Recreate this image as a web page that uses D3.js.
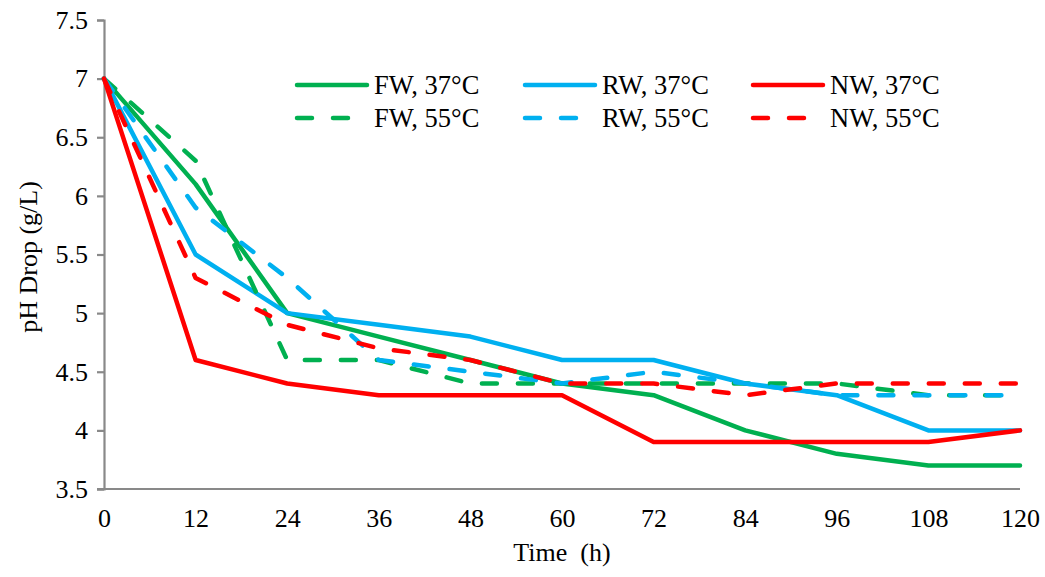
<!DOCTYPE html>
<html>
<head>
<meta charset="utf-8">
<script src="https://cdn.jsdelivr.net/npm/d3@7"></script>
<style>
  html, body { margin: 0; padding: 0; background: #ffffff; }
  svg { display: block; font-family: "Liberation Serif", "Times New Roman", serif; }
</style>
</head>
<body>
<svg id="chart" width="1045" height="577"></svg>
<script>
// Sampling times (h)
const times = [0, 12, 24, 36, 48, 60, 72, 84, 96, 108, 120];

// pH readings per substrate and temperature
const fw37 = [7.0, 6.1, 5.0, 4.8, 4.6, 4.4, 4.3, 4.0, 3.8, 3.7, 3.7];
const rw37 = [7.0, 5.5, 5.0, 4.9, 4.8, 4.6, 4.6, 4.4, 4.3, 4.0, 4.0];
const nw37 = [7.0, 4.6, 4.4, 4.3, 4.3, 4.3, 3.9, 3.9, 3.9, 3.9, 4.0];
const fw55 = [7.0, 6.3, 4.6, 4.6, 4.4, 4.4, 4.4, 4.4, 4.4, 4.3, 4.3];
const rw55 = [7.0, 5.9, 5.3, 4.6, 4.5, 4.4, 4.5, 4.4, 4.3, 4.3, 4.3];
const nw55 = [7.0, 5.3, 4.9, 4.7, 4.6, 4.4, 4.4, 4.3, 4.4, 4.4, 4.4];

const seriesNames = ["FW, 37°C", "RW, 37°C", "NW, 37°C", "FW, 55°C", "RW, 55°C", "NW, 55°C"];
const yTicks = [3.5, 4, 4.5, 5, 5.5, 6, 6.5, 7, 7.5];

const GREEN = "#00b050", BLUE = "#00b0f0", RED = "#ff0000";
const series = [
  { name: seriesNames[0], values: fw37, color: GREEN, dashed: false },
  { name: seriesNames[1], values: rw37, color: BLUE,  dashed: false },
  { name: seriesNames[2], values: nw37, color: RED,   dashed: false },
  { name: seriesNames[3], values: fw55, color: GREEN, dashed: true },
  { name: seriesNames[4], values: rw55, color: BLUE,  dashed: true },
  { name: seriesNames[5], values: nw55, color: RED,   dashed: true }
];

const svg = d3.select("#chart");
const plotL = 104, plotR = 1020, plotT = 20, plotB = 489;
const AXIS = "#898989";
const LW = 4.5, DASH = "15 21";
const FS = 26;

const x = d3.scaleLinear().domain([0, 120]).range([plotL, plotR]);
const y = d3.scaleLinear().domain([3.5, 7.5]).range([plotB, plotT]);

// Y axis
const yAxis = svg.append("g")
  .attr("transform", `translate(${plotL},0)`)
  .call(d3.axisLeft(y).tickValues(yTicks).tickSize(7).tickPadding(9)
    .tickFormat(d3.format("~g")));
yAxis.select(".domain").attr("stroke", AXIS).attr("stroke-width", 2.2);
yAxis.selectAll(".tick line").attr("stroke", AXIS).attr("stroke-width", 2.2);
yAxis.selectAll(".tick text")
  .attr("font-family", "Liberation Serif").attr("font-size", FS).attr("fill", "#000");

// X axis (no tick marks, baseline extends left to meet the y ticks)
const xAxis = svg.append("g")
  .attr("transform", `translate(0,${plotB})`)
  .call(d3.axisBottom(x).tickValues(times).tickSize(0).tickPadding(20));
xAxis.select(".domain").remove();
xAxis.append("line")
  .attr("x1", plotL - 7).attr("x2", plotR)
  .attr("stroke", AXIS).attr("stroke-width", 2.2);
xAxis.selectAll(".tick text")
  .attr("font-family", "Liberation Serif").attr("font-size", FS).attr("fill", "#000");

// Axis titles
svg.append("text")
  .attr("x", 562).attr("y", 561)
  .attr("text-anchor", "middle")
  .attr("font-size", FS)
  .style("white-space", "pre")
  .text("Time  (h)");
svg.append("text")
  .attr("transform", "translate(37,257) rotate(-90)")
  .attr("text-anchor", "middle")
  .attr("font-size", FS)
  .text("pH Drop (g/L)");

// Lines
const line = d3.line().x((d, i) => x(times[i])).y(d => y(d));
svg.append("g").selectAll("path")
  .data(series)
  .join("path")
  .attr("d", d => line(d.values))
  .attr("fill", "none")
  .attr("stroke", d => d.color)
  .attr("stroke-width", LW)
  .attr("stroke-linecap", "round")
  .attr("stroke-linejoin", "round")
  .attr("stroke-dasharray", d => d.dashed ? DASH : null);

// Legend: three columns, solid row then dashed row
const legend = svg.append("g");
const colX = [297, 525, 753];
const rowY = [85, 118];
series.forEach((s, i) => {
  const cx = colX[i % 3], cy = rowY[s.dashed ? 1 : 0];
  legend.append("line")
    .attr("x1", cx).attr("x2", cx + 70)
    .attr("y1", cy).attr("y2", cy)
    .attr("stroke", s.color).attr("stroke-width", LW)
    .attr("stroke-linecap", "round")
    .attr("stroke-dasharray", s.dashed ? DASH : null);
  legend.append("text")
    .attr("x", cx + 77).attr("y", cy + 9)
    .attr("font-size", 26.5)
    .text(s.name);
});
</script>
</body>
</html>
